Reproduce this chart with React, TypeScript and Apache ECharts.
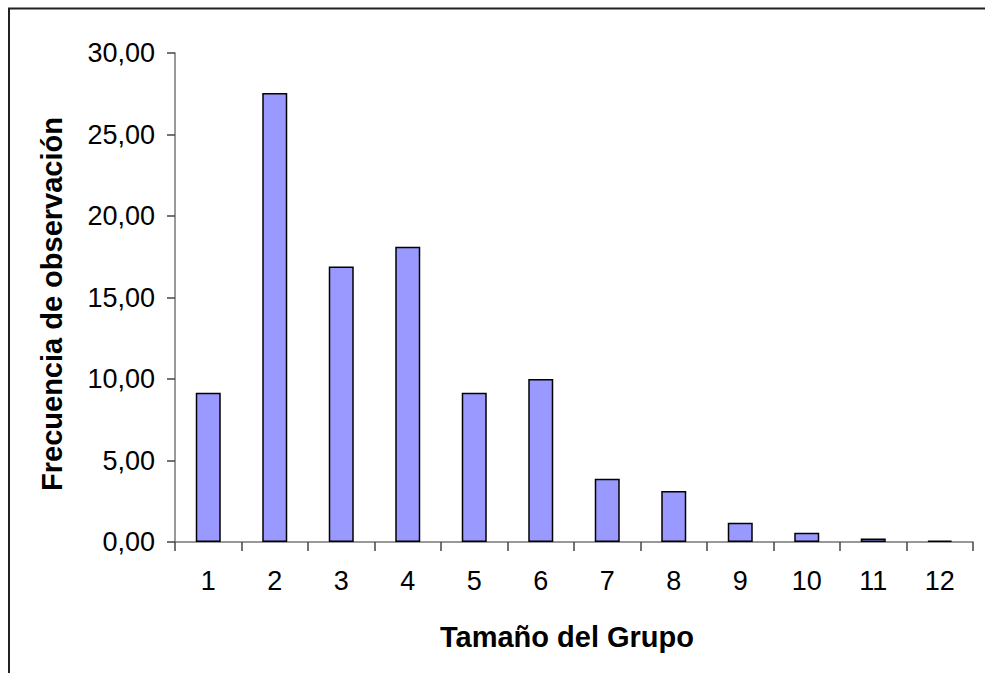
import React, { useEffect, useRef } from "react";
import * as echarts from "echarts";

const categories = ["1", "2", "3", "4", "5", "6", "7", "8", "9", "10", "11", "12"];
const frequencies = [9.15, 27.55, 16.9, 18.12, 9.15, 10.0, 3.88, 3.13, 1.18, 0.57, 0.22, 0.08];
const yTitle = "Frecuencia de observación";
const xTitle = "Tamaño del Grupo";

const FONT = "'Liberation Sans', Arial, sans-serif";

export default function App() {
  const ref = useRef<HTMLDivElement>(null);
  useEffect(() => {
    if (!ref.current) return;
    const chart = echarts.init(ref.current, null, { renderer: "svg" });
    chart.setOption({
      animation: false,
      backgroundColor: "#ffffff",
      textStyle: { fontFamily: FONT },
      grid: { left: 175, right: 12, top: 53, bottom: 131, containLabel: false },
      graphic: [
        {
          type: "rect",
          shape: { x: 9, y: 8.5, width: 1100, height: 800 },
          style: { fill: "none", stroke: "#222", lineWidth: 2 },
          silent: true,
        },
        {
          type: "text",
          x: 52,
          y: 304,
          rotation: Math.PI / 2,
          style: {
            text: yTitle,
            font: `bold 29px ${FONT}`,
            fill: "#000",
            align: "center",
            verticalAlign: "middle",
          },
        },
        {
          type: "text",
          x: 567,
          y: 637,
          style: {
            text: xTitle,
            font: `bold 29px ${FONT}`,
            fill: "#000",
            align: "center",
            verticalAlign: "middle",
          },
        },
      ],
      xAxis: {
        type: "category",
        data: categories,
        boundaryGap: true,
        axisLine: { show: true, lineStyle: { color: "#777", width: 1.5 } },
        axisTick: { show: true, interval: 0, length: 9, alignWithLabel: false, lineStyle: { color: "#444", width: 1.5 } },
        axisLabel: { color: "#000", fontSize: 27, fontFamily: FONT, margin: 25, interval: 0 },
        splitLine: { show: false },
      },
      yAxis: {
        type: "value",
        min: 0,
        max: 30,
        interval: 5,
        axisLine: { show: true, lineStyle: { color: "#777", width: 1.5 } },
        axisTick: { show: true, length: 8, lineStyle: { color: "#444", width: 1.5 } },
        axisLabel: {
          color: "#000",
          fontSize: 27,
          fontFamily: FONT,
          margin: 20,
          formatter: (v: number) => v.toFixed(2).replace(".", ","),
        },
        splitLine: { show: false },
      },
      series: [
        {
          type: "bar",
          data: frequencies,
          barWidth: 25,
          itemStyle: { color: "#9999FF", borderColor: "#000", borderWidth: 1.5 },
        },
      ],
    });
    return () => chart.dispose();
  }, []);
  return (
    <div
      ref={ref}
      style={{ position: "fixed", left: 0, top: 0, width: 985, height: 673, background: "#fff" }}
    />
  );
}
